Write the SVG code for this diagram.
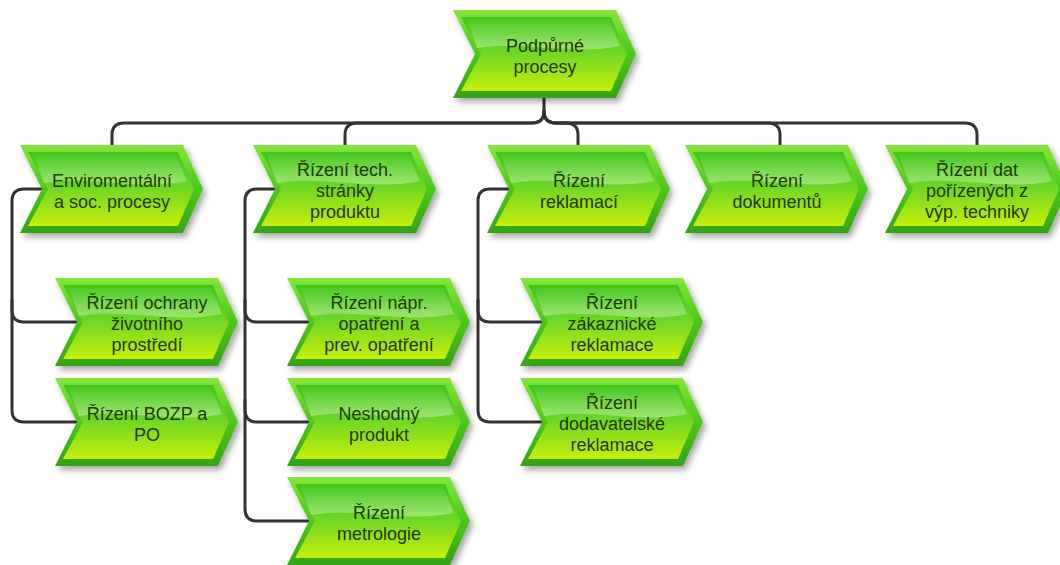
<svg xmlns="http://www.w3.org/2000/svg" xmlns:xlink="http://www.w3.org/1999/xlink" width="1060" height="565" viewBox="0 0 1060 565">
<defs>
  <linearGradient id="gOuter" x1="0" y1="0" x2="0" y2="1">
    <stop offset="0" stop-color="#86e63a"/>
    <stop offset="0.5" stop-color="#4cc71c"/>
    <stop offset="1" stop-color="#34a412"/>
  </linearGradient>
  <linearGradient id="gFace" x1="0" y1="0" x2="0" y2="1">
    <stop offset="0" stop-color="#3fc61a"/>
    <stop offset="0.45" stop-color="#6ad626"/>
    <stop offset="1" stop-color="#c8ee0c"/>
  </linearGradient>
  <linearGradient id="gGloss" x1="0" y1="0" x2="0" y2="1">
    <stop offset="0" stop-color="#ffffff" stop-opacity="0.05"/>
    <stop offset="1" stop-color="#ffffff" stop-opacity="0.35"/>
  </linearGradient>
  <filter id="shadow" x="-10%" y="-10%" width="125%" height="130%">
    <feDropShadow dx="3" dy="4" stdDeviation="3" flood-color="#000000" flood-opacity="0.35"/>
  </filter>
  <g id="chev">
    <path d="M0,0 H163 L183,44 L163,88 H0 L22,44 Z" fill="url(#gOuter)" filter="url(#shadow)"/>
    <path d="M8,7 H158 L174,44 L158,81 H8 L28,44 Z" fill="url(#gFace)"/>
    <path d="M14,10 H156 L167,36 C120,46 70,30 24,38 Z" fill="url(#gGloss)"/>
  </g>
</defs>
<style>
  .conn { fill: none; stroke: #333333; stroke-width: 3; stroke-linecap: round; }
  .lbl { font-family: "Liberation Sans", Arial, sans-serif; font-size: 18px; fill: #233a06; text-anchor: middle; }
</style>

<g id="connectors">
  <path class="conn" d="M544,98 V111 Q544,123 532,123 H124 Q112,123 112,135 V145"/>
  <path class="conn" d="M544,111 Q544,123 532,123 H357 Q345,123 345,135 V145"/>
  <path class="conn" d="M544,111 Q544,123 556,123 H566 Q578,123 578,135 V145"/>
  <path class="conn" d="M544,111 Q544,123 556,123 H768 Q780,123 780,135 V145"/>
  <path class="conn" d="M544,111 Q544,123 556,123 H965 Q977,123 977,135 V145"/>

  <path class="conn" d="M42,189 H24 Q12,189 12,201 V310 Q12,322 24,322 H77"/>
  <path class="conn" d="M12,300 V410 Q12,422 24,422 H77"/>

  <path class="conn" d="M275,189 H257 Q245,189 245,201 V310 Q245,322 257,322 H309"/>
  <path class="conn" d="M245,300 V410 Q245,422 257,422 H309"/>
  <path class="conn" d="M245,400 V509 Q245,521 257,521 H309"/>

  <path class="conn" d="M509,189 H490 Q478,189 478,201 V310 Q478,322 490,322 H542"/>
  <path class="conn" d="M478,300 V410 Q478,422 490,422 H542"/>
</g>

<g id="node-podpurne">
  <use xlink:href="#chev" x="453" y="10"/>
  <text class="lbl" x="545" y="51.5">Podpůrné</text>
  <text class="lbl" x="545" y="72.5">procesy</text>
</g>
<g id="node-enviro">
  <use xlink:href="#chev" x="20" y="145"/>
  <text class="lbl" x="112" y="186.5">Enviromentální</text>
  <text class="lbl" x="112" y="207.5">a soc. procesy</text>
</g>
<g id="node-tech">
  <use xlink:href="#chev" x="253" y="145"/>
  <text class="lbl" x="345" y="176">Řízení tech.</text>
  <text class="lbl" x="345" y="197">stránky</text>
  <text class="lbl" x="345" y="218">produktu</text>
</g>
<g id="node-reklamaci">
  <use xlink:href="#chev" x="487" y="145"/>
  <text class="lbl" x="579" y="186.5">Řízení</text>
  <text class="lbl" x="579" y="207.5">reklamací</text>
</g>
<g id="node-dokumentu">
  <use xlink:href="#chev" x="685" y="145"/>
  <text class="lbl" x="777" y="186.5">Řízení</text>
  <text class="lbl" x="777" y="207.5">dokumentů</text>
</g>
<g id="node-dat">
  <use xlink:href="#chev" x="885" y="145"/>
  <text class="lbl" x="977" y="176">Řízení dat</text>
  <text class="lbl" x="977" y="197">pořízených z</text>
  <text class="lbl" x="977" y="218">výp. techniky</text>
</g>
<g id="node-ochrana">
  <use xlink:href="#chev" x="55" y="278"/>
  <text class="lbl" x="147" y="309">Řízení ochrany</text>
  <text class="lbl" x="147" y="330">životního</text>
  <text class="lbl" x="147" y="351">prostředí</text>
</g>
<g id="node-bozp">
  <use xlink:href="#chev" x="55" y="378"/>
  <text class="lbl" x="147" y="419.5">Řízení BOZP a</text>
  <text class="lbl" x="147" y="440.5">PO</text>
</g>
<g id="node-napr">
  <use xlink:href="#chev" x="287" y="278"/>
  <text class="lbl" x="379" y="309">Řízení nápr.</text>
  <text class="lbl" x="379" y="330">opatření a</text>
  <text class="lbl" x="379" y="351">prev. opatření</text>
</g>
<g id="node-neshodny">
  <use xlink:href="#chev" x="287" y="378"/>
  <text class="lbl" x="379" y="419.5">Neshodný</text>
  <text class="lbl" x="379" y="440.5">produkt</text>
</g>
<g id="node-metrologie">
  <use xlink:href="#chev" x="287" y="477"/>
  <text class="lbl" x="379" y="518.5">Řízení</text>
  <text class="lbl" x="379" y="539.5">metrologie</text>
</g>
<g id="node-zakaznicke">
  <use xlink:href="#chev" x="520" y="278"/>
  <text class="lbl" x="612" y="309">Řízení</text>
  <text class="lbl" x="612" y="330">zákaznické</text>
  <text class="lbl" x="612" y="351">reklamace</text>
</g>
<g id="node-dodavatelske">
  <use xlink:href="#chev" x="520" y="378"/>
  <text class="lbl" x="612" y="409">Řízení</text>
  <text class="lbl" x="612" y="430">dodavatelské</text>
  <text class="lbl" x="612" y="451">reklamace</text>
</g>
</svg>
